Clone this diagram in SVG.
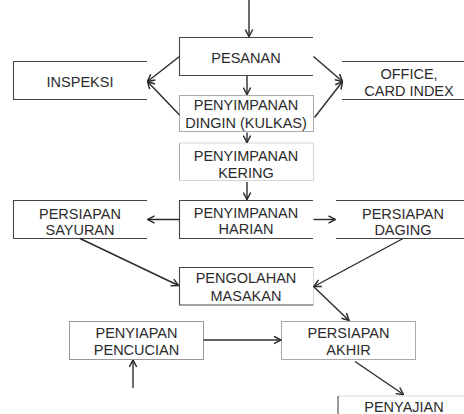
<svg xmlns="http://www.w3.org/2000/svg" width="464" height="414" viewBox="0 0 464 414">
<defs>
<marker id="ah" viewBox="0 0 9 9" refX="8.5" refY="4.5" markerWidth="9" markerHeight="9" markerUnits="userSpaceOnUse" orient="auto">
<path d="M1.5,0.8 L8.5,4.5 L1.5,8.2" fill="none" stroke="#2b2b2b" stroke-width="1.5"/>
</marker>
<style>
text{font-family:"Liberation Sans",Arial,sans-serif;font-size:14.5px;fill:#2b2b2b;text-anchor:middle}
.b{fill:none;stroke:#444;stroke-width:1.1}
.g{fill:none;stroke:#aaa;stroke-width:1}
.l{fill:none;stroke:#d6d6d6;stroke-width:1}
.c{fill:none;stroke:#2b2b2b;stroke-width:1.4;marker-end:url(#ah)}
</style>
</defs>
<rect width="464" height="414" fill="#fff"/>
<g id="pesanan"><path class="b" d="M313,37.5 H179.5 V75.5 H313"/><text x="246" y="62.5">PESANAN</text></g>
<g id="inspeksi"><path class="b" d="M147,61.5 H13.5 V99.5 H147"/><text x="80" y="86.5">INSPEKSI</text></g>
<g id="office"><path class="b" d="M342,61.5 H464 M342,99.5 H464"/><text x="409" y="78.5">OFFICE,</text><text x="409" y="95.5">CARD INDEX</text></g>
<g id="dingin"><rect class="g" x="179.5" y="95.5" width="134" height="36"/><text x="246" y="110">PENYIMPANAN</text><text x="246" y="127.5">DINGIN (KULKAS)</text></g>
<g id="kering"><path class="l" d="M179.5,143 H313.5 V180.5 H179.5"/><path class="g" d="M179.5,143 V180.5"/><text x="246" y="161">PENYIMPANAN</text><text x="246" y="177.5">KERING</text></g>
<g id="harian"><path class="b" d="M313,200.5 H179.5 V238.5 H313"/><text x="246" y="217.5">PENYIMPANAN</text><text x="246" y="233.5">HARIAN</text></g>
<g id="sayuran"><path class="b" d="M147,200.5 H13.5 V238.5 H147"/><text x="80" y="218.5">PERSIAPAN</text><text x="80" y="234.5">SAYURAN</text></g>
<g id="daging"><path class="b" d="M336,200.5 H464 M336,238.5 H464"/><text x="403" y="218.5">PERSIAPAN</text><text x="403" y="234.5">DAGING</text></g>
<g id="pengolahan"><path class="b" d="M313.5,267.5 H179.5 V305 H313.5"/><path class="l" d="M313.5,267.5 V305"/><text x="246" y="283">PENGOLAHAN</text><text x="246" y="300.5">MASAKAN</text></g>
<g id="pencucian"><rect class="g" x="69.5" y="321.5" width="134" height="38" style="stroke:#999"/><text x="136.5" y="337.5">PENYIAPAN</text><text x="136.5" y="355">PENCUCIAN</text></g>
<g id="akhir"><rect class="g" x="281.5" y="321.5" width="134" height="38"/><text x="348.5" y="337.5">PERSIAPAN</text><text x="348.5" y="355">AKHIR</text></g>
<g id="penyajian"><path class="l" d="M338,396 H464"/><path class="b" d="M338,396 V414"/><text x="404" y="411.5">PENYAJIAN</text></g>
<g id="connectors">
<path class="c" d="M249,0 V36.5"/>
<path class="c" d="M247,76 V94.5"/>
<path class="c" d="M247,132.5 V142.5"/>
<path class="c" d="M247,182 V199.5"/>
<path class="c" d="M179.5,56.5 L147.5,81.5"/>
<path class="c" d="M179.5,115 L147.5,81.5"/>
<path class="c" d="M313.5,56.5 L342.5,81.5"/>
<path class="c" d="M314.5,117.5 L342.5,81.5"/>
<path class="c" d="M179.5,219.5 H147.5"/>
<path class="c" d="M313.5,219.5 H335.5"/>
<path class="c" d="M80,238.5 L178.5,285.5"/>
<path class="c" d="M403,238.5 L314,286.5"/>
<path class="c" d="M313.5,286.5 L349,320.5"/>
<path class="c" d="M203.5,340 H281"/>
<path class="c" d="M133,388 V360"/>
<path class="c" d="M355,361.5 L403.5,394.5"/>
</g>
</svg>
